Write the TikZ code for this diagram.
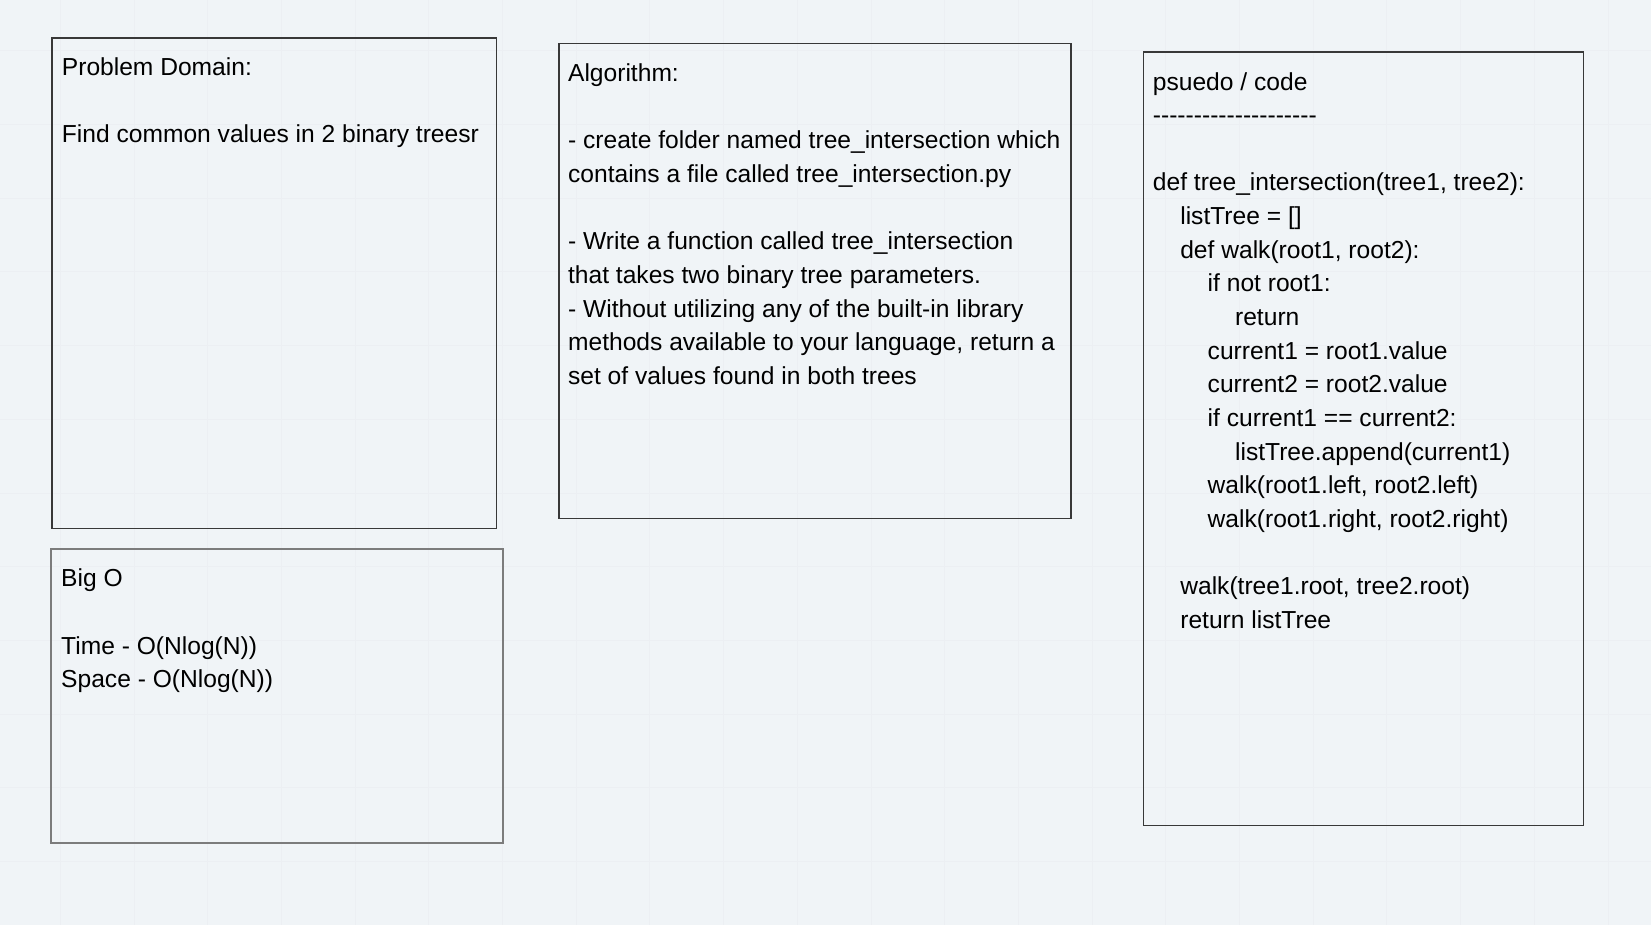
\documentclass[tikz,border=0pt]{standalone}
\usepackage{fontspec}
\setmainfont{Liberation Sans}
\definecolor{bg}{HTML}{F0F4F7}
\definecolor{gridc}{HTML}{ECEFF3}
\definecolor{boxdark}{HTML}{383838}
\definecolor{boxgray}{HTML}{7C7C7C}
\newcommand{\indA}{\hspace*{27.4pt}}
\newcommand{\indB}{\hspace*{54.8pt}}
\newcommand{\indC}{\hspace*{82.2pt}}
\newcommand{\firststrut}{\rule{0pt}{24pt}}
\begin{document}
\begin{tikzpicture}[x=1pt,y=-1pt,
  panel/.style={rectangle, draw=boxdark, line width=1.3pt, inner sep=0pt, anchor=north west},
  panelgray/.style={panel, draw=boxgray, line width=1.6pt},
  paneltext/.style={anchor=north west, inner sep=0pt, align=left, text=black,
    font=\fontsize{24.6}{33.65}\selectfont},
  gridline/.style={draw=gridc, line width=0.8pt}
]
\fill[bg] (0,0) rectangle (1651,925);
\useasboundingbox (0,0) rectangle (1651,925);
% faint background grid
\foreach \i in {0,...,21} \draw[gridline] ({60.2+73.7*\i},0) -- ++(0,925);
\foreach \j in {0,...,11} \draw[gridline] (0,{50.8+73.7*\j}) -- ++(1651,0);

% panels
\node[panel, minimum width=444.3pt, minimum height=490.7pt] (pd) at (51.3,37.3) {};
\node[panelgray, minimum width=451.7pt, minimum height=294.4pt] (bo) at (50.3,548) {};
\node[panel, minimum width=512pt, minimum height=474.5pt] (al) at (558.2,43.2) {};
\node[panel, minimum width=440pt, minimum height=773.5pt] (pc) at (1142.5,51.3) {};

% texts
\node[paneltext] (pdt) at ([xshift=10.4pt,yshift=-14pt]pd.north west)
  {\firststrut Problem Domain:\\ \mbox{}\\ Find common values in 2 binary treesr};

\node[paneltext] (bot) at ([xshift=10.7pt,yshift=-14.5pt]bo.north west)
  {\firststrut Big O\\ \mbox{}\\ Time - O(Nlog(N))\\ Space - O(Nlog(N))};

\node[paneltext] (alt) at ([xshift=9.7pt,yshift=-14.2pt]al.north west)
  {\firststrut Algorithm:\\ \mbox{}\\
   - create folder named tree\_intersection which\\
   contains a file called tree\_intersection.py\\ \mbox{}\\
   - Write a function called tree\_intersection\\
   that takes two binary tree parameters.\\
   - Without utilizing any of the built-in library\\
   methods available to your language, return a\\
   set of values found in both trees};

\node[paneltext] (pct) at ([xshift=10.2pt,yshift=-14.5pt]pc.north west)
  {\firststrut psuedo / code\\
   -{}-{}-{}-{}-{}-{}-{}-{}-{}-{}-{}-{}-{}-{}-{}-{}-{}-{}-{}-{}\\ \mbox{}\\
   def tree\_intersection(tree1, tree2):\\
   \indA listTree = []\\
   \indA def walk(root1, root2):\\
   \indB if not root1:\\
   \indC return\\
   \indB current1 = root1.value\\
   \indB current2 = root2.value\\
   \indB if current1 == current2:\\
   \indC listTree.append(current1)\\
   \indB walk(root1.left, root2.left)\\
   \indB walk(root1.right, root2.right)\\ \mbox{}\\
   \indA walk(tree1.root, tree2.root)\\
   \indA return listTree};
\end{tikzpicture}
\end{document}
